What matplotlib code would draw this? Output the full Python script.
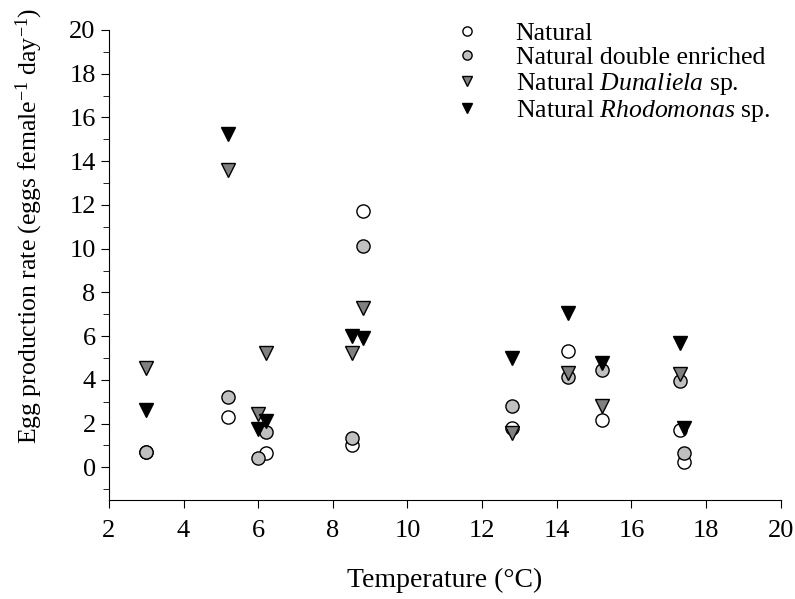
import matplotlib
matplotlib.use("Agg")
import matplotlib.pyplot as plt
from matplotlib.ticker import MultipleLocator

plt.rcParams["font.family"] = ["Liberation Serif", "DejaVu Serif"]
plt.rcParams["mathtext.fontset"] = "custom"
plt.rcParams["mathtext.rm"] = "Liberation Serif"
plt.rcParams["mathtext.it"] = "Liberation Serif:italic"

# Natural (open circles)
nat_t = [3.0, 5.2, 6.2, 8.5, 8.8, 12.8, 14.3, 15.2, 17.3, 17.4]
nat_e = [0.7, 2.3, 0.65, 1.0, 11.7, 1.8, 5.3, 2.15, 1.7, 0.25]
# Natural double enriched (grey circles)
dbl_t = [3.0, 5.2, 6.0, 6.2, 8.5, 8.8, 12.8, 14.3, 15.2, 17.3, 17.4]
dbl_e = [0.7, 3.2, 0.45, 1.6, 1.35, 10.1, 2.8, 4.15, 4.45, 3.95, 0.65]
# Natural Dunaliela sp. (grey triangles)
dun_t = [3.0, 5.2, 6.0, 6.2, 8.5, 8.8, 12.8, 14.3, 15.2, 17.3]
dun_e = [4.55, 13.6, 2.45, 5.25, 5.25, 7.3, 1.55, 4.3, 2.8, 4.25]
# Natural Rhodomonas sp. (black triangles)
rho_t = [3.0, 5.2, 6.0, 6.2, 8.5, 8.8, 12.8, 14.3, 15.2, 17.3, 17.4]
rho_e = [2.6, 15.25, 1.75, 2.1, 6.0, 5.9, 5.0, 7.05, 4.75, 5.7, 1.8]

fig = plt.figure(figsize=(7.95, 5.99), dpi=100)
ax = fig.add_axes([0.137, 0.165, 0.845, 0.785])

ms = 9.5
ax.plot(nat_t, nat_e, "o", ms=ms, mfc="white", mec="black", mew=1.0,
        label="Natural", zorder=3)
ax.plot(dbl_t, dbl_e, "o", ms=ms, mfc="#c0c0c0", mec="black", mew=1.0,
        label="Natural double enriched", zorder=3)
ax.plot(dun_t, dun_e, "v", ms=ms, mfc="#808080", mec="black", mew=1.0,
        label=r"Natural $\mathit{Dunaliela}$ sp.", zorder=3)
ax.plot(rho_t, rho_e, "v", ms=ms, mfc="black", mec="black", mew=1.0,
        label=r"Natural $\mathit{Rhodomonas}$ sp.", zorder=3)

ax.set_xlim(2, 20)
ax.set_ylim(-1.5, 20)
ax.xaxis.set_major_locator(MultipleLocator(2))
ax.yaxis.set_minor_locator(MultipleLocator(1))
ax.set_yticks(range(0, 21, 2))
ax.spines["top"].set_visible(False)
ax.spines["right"].set_visible(False)
ax.tick_params(axis="both", which="major", labelsize=19, length=6, direction="out")
ax.tick_params(axis="y", which="minor", length=4)
ax.tick_params(axis="x", pad=8)

ax.set_xlabel("Temperature (°C)", fontsize=20, labelpad=19)
ax.set_ylabel(r"Egg production rate (eggs female$^{-1}$ day$^{-1}$)", fontsize=18.5)
ax.yaxis.set_label_coords(-0.095, 0.583)

ax.legend(loc="upper left", bbox_to_anchor=(0.46, 1.066), frameon=False,
          fontsize=18.5, markerscale=0.7, handletextpad=0.9, labelspacing=0.05)

fig.savefig("out.png", dpi=100)
